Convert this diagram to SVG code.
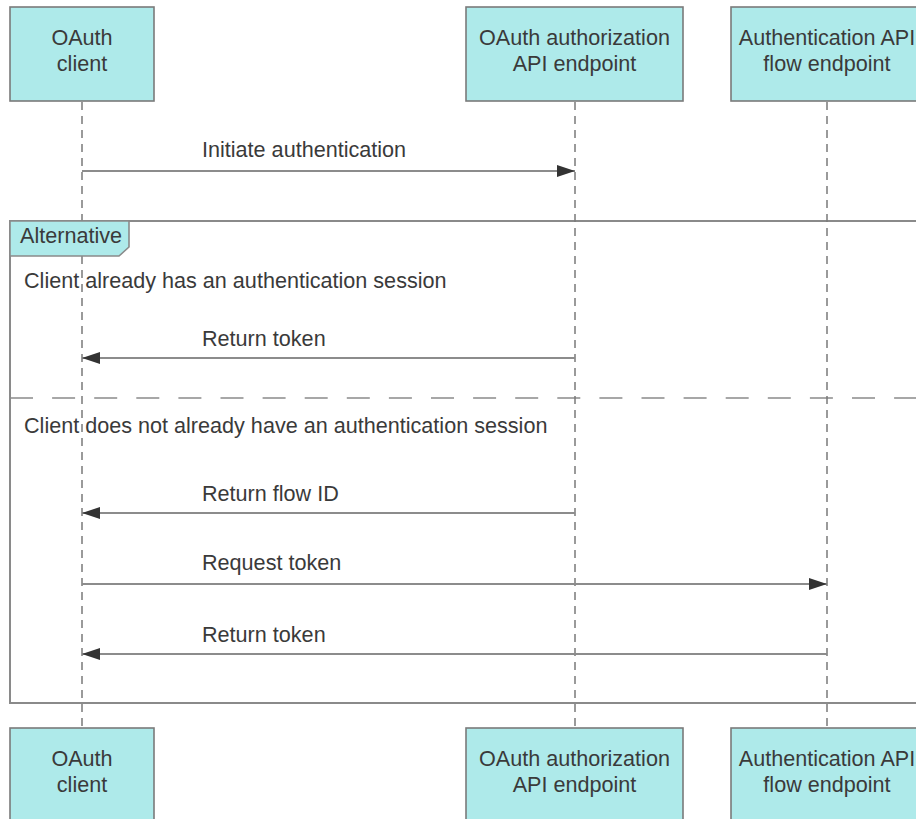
<svg xmlns="http://www.w3.org/2000/svg" width="916" height="819" viewBox="0 0 916 819">
  <style>
    .box { fill: #aeeaea; stroke: #7a7a7a; stroke-width: 1.6; }
    .t { font-family: "Liberation Sans", Arial, sans-serif; font-size: 21.6px; fill: #3a3a3a; }
    .c { text-anchor: middle; }
    .life { stroke: #7a7a7a; stroke-width: 1.5; stroke-dasharray: 8 6; fill: none; }
    .frame { fill: none; stroke: #8a8a8a; stroke-width: 2; }
    .div { stroke: #8a8a8a; stroke-width: 1.5; stroke-dasharray: 23 19.1; fill: none; }
    .msg { stroke: #8c8c8c; stroke-width: 2; fill: none; }
  </style>
  <defs>
    <marker id="arrow" markerUnits="userSpaceOnUse" markerWidth="20" markerHeight="12" refX="18" refY="6" orient="auto">
      <path d="M0,0 L18,6 L0,12 Z" fill="#333333"/>
    </marker>
  </defs>
  <rect x="0" y="0" width="916" height="819" fill="#ffffff"/>

  <!-- Alternative frame -->
  <g id="frame-alt">
    <path class="frame" d="M930,221 L10,221 L10,703 L930,703"/>
    <line class="div" x1="10" y1="398" x2="930" y2="398"/>
    <text class="t" x="24" y="288">Client already has an authentication session</text>
    <text class="t" x="24" y="433">Client does not already have an authentication session</text>
  </g>

  <!-- Connectors: lifelines and messages -->
  <g id="connectors">
    <line class="life" x1="82" y1="102" x2="82" y2="728"/>
    <line class="life" x1="575" y1="102" x2="575" y2="728"/>
    <line class="life" x1="827" y1="102" x2="827" y2="728"/>

    <g id="msg-initiate">
      <line class="msg" x1="82" y1="171" x2="575" y2="171" marker-end="url(#arrow)"/>
      <text class="t" x="202" y="157">Initiate authentication</text>
    </g>
    <g id="msg-return-token-1">
      <line class="msg" x1="575" y1="358" x2="82" y2="358" marker-end="url(#arrow)"/>
      <text class="t" x="202" y="346">Return token</text>
    </g>
    <g id="msg-return-flow-id">
      <line class="msg" x1="575" y1="513" x2="82" y2="513" marker-end="url(#arrow)"/>
      <text class="t" x="202" y="501">Return flow ID</text>
    </g>
    <g id="msg-request-token">
      <line class="msg" x1="82" y1="584" x2="827" y2="584" marker-end="url(#arrow)"/>
      <text class="t" x="202" y="570">Request token</text>
    </g>
    <g id="msg-return-token-2">
      <line class="msg" x1="827" y1="654" x2="82" y2="654" marker-end="url(#arrow)"/>
      <text class="t" x="202" y="642">Return token</text>
    </g>
  </g>

  <!-- Frame tab -->
  <g id="frame-tab">
    <path d="M10,221 L129,221 L129,247 L119,256 L10,256 Z" fill="#aeeaea" stroke="#8a8a8a" stroke-width="1.6"/>
    <text class="t" x="20" y="243">Alternative</text>
  </g>

  <!-- Participants (top) -->
  <g id="client-top">
    <rect class="box" x="10" y="7" width="144" height="94"/>
    <text class="t c" x="82" y="45">OAuth</text>
    <text class="t c" x="82" y="71">client</text>
  </g>
  <g id="authz-top">
    <rect class="box" x="466" y="7" width="217" height="94"/>
    <text class="t c" x="574.5" y="45">OAuth authorization</text>
    <text class="t c" x="574.5" y="71">API endpoint</text>
  </g>
  <g id="authn-top">
    <rect class="box" x="731" y="7" width="192" height="94"/>
    <text class="t c" x="827" y="45">Authentication API</text>
    <text class="t c" x="827" y="71">flow endpoint</text>
  </g>

  <!-- Participants (bottom) -->
  <g id="client-bottom">
    <rect class="box" x="10" y="728" width="144" height="94"/>
    <text class="t c" x="82" y="766">OAuth</text>
    <text class="t c" x="82" y="792">client</text>
  </g>
  <g id="authz-bottom">
    <rect class="box" x="466" y="728" width="217" height="94"/>
    <text class="t c" x="574.5" y="766">OAuth authorization</text>
    <text class="t c" x="574.5" y="792">API endpoint</text>
  </g>
  <g id="authn-bottom">
    <rect class="box" x="731" y="728" width="192" height="94"/>
    <text class="t c" x="827" y="766">Authentication API</text>
    <text class="t c" x="827" y="792">flow endpoint</text>
  </g>
</svg>
